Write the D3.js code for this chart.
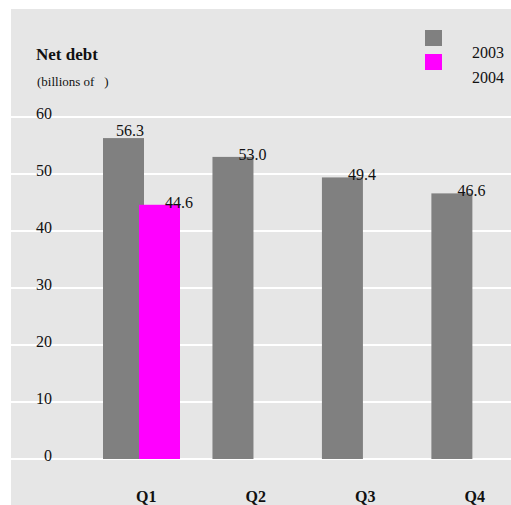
<!DOCTYPE html>
<html>
<head>
<meta charset="utf-8">
<script src="https://cdn.jsdelivr.net/npm/d3@7"></script>
<style>
  html, body { margin: 0; padding: 0; background: #ffffff; }
  svg { display: block; }
</style>
</head>
<body>
<svg id="chart" width="511" height="505" font-family="'Liberation Serif', 'Times New Roman', Times, 'DejaVu Serif', serif"></svg>
<script>
// ---- data ----
const quarters = ["Q1", "Q2", "Q3", "Q4"];
const years = ["2003", "2004"];
const values2003 = [56.3, 53.0, 49.4, 46.6];
const values2004 = [44.6, null, null, null];
const yTicks = [0, 10, 20, 30, 40, 50, 60];
const seriesColors = ["#808080", "#ff00ff"];
const title = "Net debt";
const subtitle = "(billions of   )";

const series = [
  { year: years[0], values: values2003, color: seriesColors[0] },
  { year: years[1], values: values2004, color: seriesColors[1] }
];

const svg = d3.select("#chart");
const W = 511, H = 505;
const serif = "'Liberation Serif', 'Times New Roman', Times, serif";

// panel
svg.append("rect").attr("x", 11).attr("y", 9).attr("width", W - 11).attr("height", H - 9)
  .attr("fill", "#e6e6e6");

// scales
const y = d3.scaleLinear().domain([0, 60]).range([459, 117]);
const x0 = d3.scaleBand().domain(quarters).range([103, 508]).paddingInner(0.3).paddingOuter(0);
const barW = 41;
const x1 = d3.scalePoint().domain(years).range([0, 36]);

// gridlines
svg.append("g").selectAll("line").data(yTicks).join("line")
  .attr("x1", 11).attr("x2", W)
  .attr("y1", d => y(d)).attr("y2", d => y(d))
  .attr("stroke", "#ffffff").attr("stroke-width", 2);

// y tick labels
svg.append("g").selectAll("text").data(yTicks).join("text")
  .attr("x", 52).attr("y", d => y(d) + 2)
  .attr("text-anchor", "end")
  .attr("font-family", serif)
  .attr("font-size", 16)
  .attr("fill", "#111")
  .text(d => d);

// bars
const bars = [];
series.forEach((s, si) => {
  s.values.forEach((v, qi) => {
    if (v == null) return;
    const q = quarters[qi];
    const hasNext = si + 1 < series.length && series[si + 1].values[qi] != null;
    bars.push({ q, year: s.year, v, color: s.color, hasNext });
  });
});

svg.append("g").selectAll("rect").data(bars).join("rect")
  .attr("x", d => x0(d.q) + x1(d.year))
  .attr("y", d => y(d.v))
  .attr("width", barW)
  .attr("height", d => y(0) - y(d.v))
  .attr("fill", d => d.color);

// value labels
svg.append("g").selectAll("text").data(bars).join("text")
  .attr("x", d => {
    const right = x0(d.q) + x1(d.year) + barW;
    return d.hasNext ? right : right - 15;
  })
  .attr("y", d => d.hasNext ? y(d.v) - 2 : y(d.v) + 3)
  .attr("text-anchor", d => d.hasNext ? "end" : "start")
  .attr("font-family", serif)
  .attr("font-size", 16)
  .attr("fill", "#111")
  .text(d => d.v.toFixed(1));

// x labels
svg.append("g").selectAll("text").data(quarters).join("text")
  .attr("x", d => x0(d) + x0.bandwidth() / 2 + 5)
  .attr("y", 502)
  .attr("text-anchor", "middle")
  .attr("font-family", serif)
  .attr("font-size", 16)
  .attr("font-weight", "bold")
  .attr("fill", "#111")
  .text(d => d);

// title
svg.append("text").attr("x", 36).attr("y", 60)
  .attr("font-family", serif)
  .attr("font-size", 17).attr("font-weight", "bold").attr("fill", "#111").text(title);
svg.append("text").attr("x", 37).attr("y", 86)
  .attr("font-family", serif)
  .attr("font-size", 13).attr("fill", "#111").style("white-space", "pre").text(subtitle);

// legend
const legend = svg.append("g");
legend.selectAll("rect").data(series).join("rect")
  .attr("x", 425).attr("y", (d, i) => 30 + i * 24)
  .attr("width", 17).attr("height", 16)
  .attr("fill", d => d.color);
legend.selectAll("text").data(series).join("text")
  .attr("x", 472).attr("y", (d, i) => 58 + i * 25)
  .attr("font-family", serif)
  .attr("font-size", 16)
  .attr("fill", "#111")
  .text(d => d.year);
</script>
</body>
</html>
